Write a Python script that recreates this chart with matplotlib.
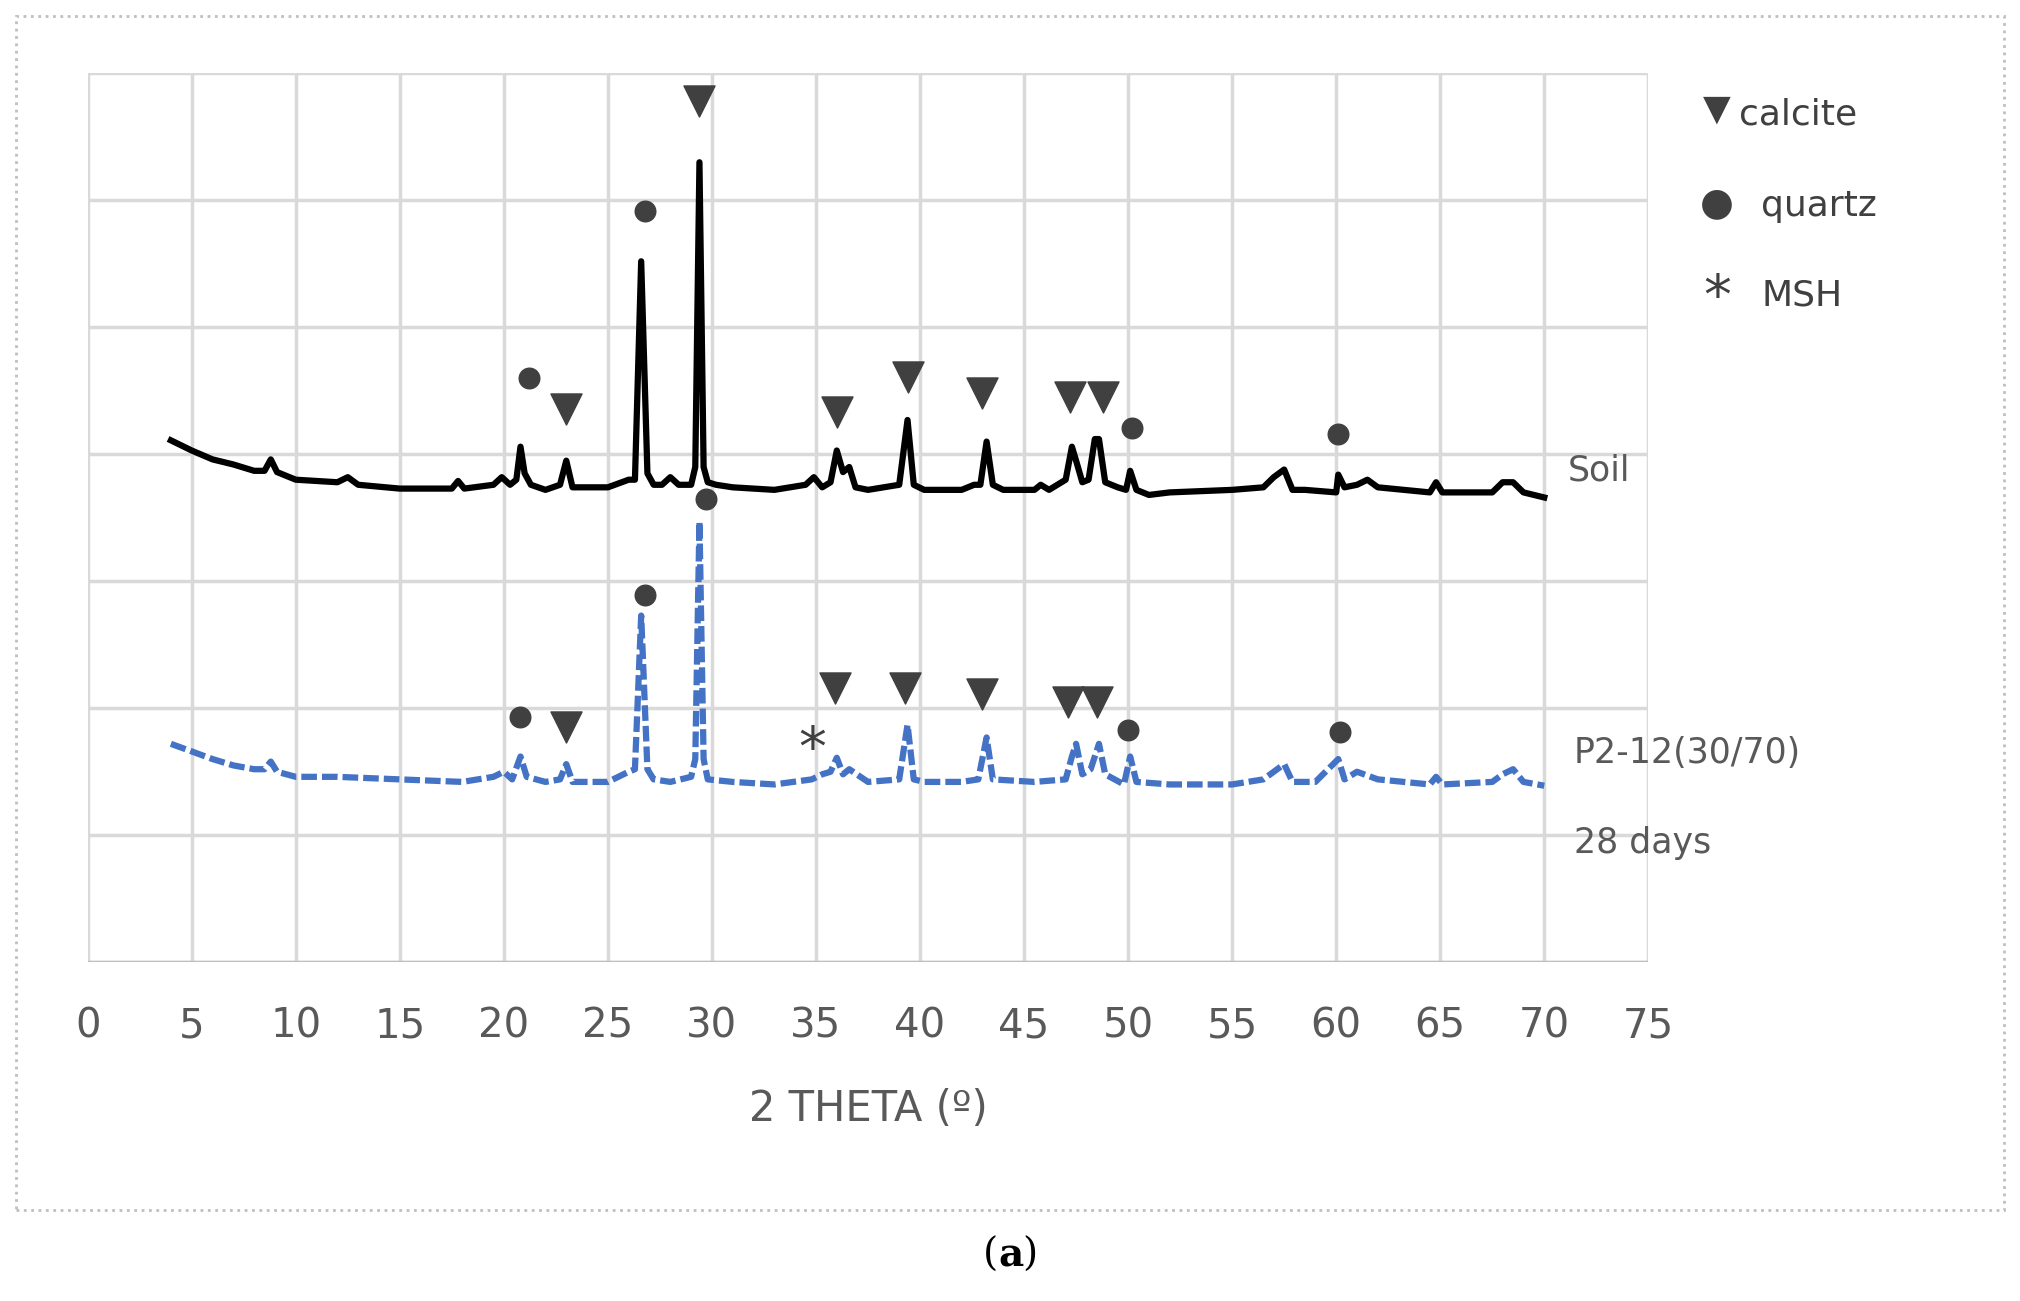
import matplotlib
matplotlib.use("Agg")
import matplotlib.pyplot as plt
from matplotlib.patches import Rectangle

soil_x = [4,5,6,7,8,8.5,8.8,9.1,10,12,12.5,13,15,17.5,17.8,18.1,19.5,19.9,20.3,20.6,20.8,21.0,21.3,22,22.7,23,23.3,25,26.0,26.3,26.6,26.9,27.2,27.6,28,28.4,29.0,29.2,29.4,29.6,29.8,30.2,31,33,34.5,34.9,35.3,35.7,36.0,36.3,36.6,36.9,37.5,39.0,39.4,39.7,40.2,42,42.6,42.9,43.2,43.5,44,45.5,45.8,46.2,47.0,47.3,47.5,47.8,48.1,48.4,48.6,48.9,49.5,49.9,50.1,50.4,51,52,55,56.5,57.0,57.5,57.9,58.5,60,60.1,60.4,61,61.5,62,64.5,64.8,65.1,66,67.5,68.0,68.5,69,70]
soil_y = [4.11,4.03,3.96,3.92,3.87,3.87,3.96,3.86,3.80,3.78,3.82,3.76,3.73,3.73,3.79,3.73,3.76,3.82,3.76,3.80,4.06,3.85,3.76,3.72,3.76,3.95,3.74,3.74,3.80,3.80,5.52,3.85,3.76,3.76,3.82,3.76,3.76,3.90,6.30,3.90,3.78,3.76,3.74,3.72,3.76,3.82,3.74,3.78,4.03,3.86,3.90,3.74,3.72,3.76,4.27,3.76,3.72,3.72,3.76,3.76,4.10,3.76,3.72,3.72,3.76,3.72,3.80,4.06,3.95,3.78,3.80,4.12,4.12,3.78,3.74,3.72,3.87,3.72,3.68,3.70,3.72,3.74,3.82,3.88,3.72,3.72,3.70,3.84,3.74,3.76,3.80,3.74,3.70,3.78,3.70,3.70,3.70,3.78,3.78,3.70,3.66]

p2_x = [4,5,6,7,8,8.5,8.8,9.1,10,12,15,18,19.5,20.0,20.4,20.8,21.1,22,22.7,23,23.3,25,26.0,26.3,26.6,26.9,27.2,28,29.0,29.2,29.4,29.6,29.8,31,33,34.8,35.3,35.7,36.0,36.3,36.6,37.5,39.0,39.4,39.7,40.2,42,42.8,43.2,43.5,45.5,47.0,47.3,47.5,47.8,48.2,48.6,48.9,49.8,50.1,50.4,52,55,56.5,57.0,57.5,57.9,59,60.1,60.4,61,62,64.5,64.8,65.1,67.5,68.0,68.5,69,70]
p2_y = [1.72,1.66,1.60,1.55,1.52,1.52,1.58,1.50,1.46,1.46,1.44,1.42,1.46,1.50,1.44,1.62,1.46,1.42,1.44,1.56,1.42,1.42,1.50,1.52,2.73,1.52,1.44,1.42,1.46,1.60,3.47,1.60,1.44,1.42,1.40,1.44,1.48,1.50,1.61,1.48,1.52,1.42,1.44,1.87,1.44,1.42,1.42,1.44,1.77,1.44,1.42,1.44,1.62,1.72,1.48,1.52,1.72,1.48,1.40,1.62,1.42,1.40,1.40,1.44,1.50,1.56,1.42,1.42,1.60,1.44,1.50,1.44,1.40,1.46,1.40,1.42,1.48,1.52,1.42,1.39]

calcite_x = [29.4,23.0,36.0,39.4,43.0,47.2,48.8, 23.0,35.9,39.3,43.0,47.1,48.5]
calcite_y = [6.78,4.36,4.33,4.61,4.48,4.45,4.45, 1.85,2.16,2.16,2.11,2.05,2.05]
quartz_x = [26.8,21.2,50.2,60.1, 29.7,26.8,20.8,50.0,60.2]
quartz_y = [5.92,4.60,4.21,4.16, 3.65,2.89,1.93,1.83,1.81]
msh_x = [34.8]
msh_y = [1.66]
xticks = list(range(0, 80, 5))

fig = plt.figure(figsize=(20.2, 13.01), dpi=100)
ax = fig.add_axes([0.0434, 0.2604, 0.7726, 0.6832])
ax.set_xlim(0, 75)
ax.set_ylim(0, 7)
ax.set_xticks(xticks)
ax.set_yticks(range(8))
ax.set_yticklabels([])
ax.grid(True, color="#d9d9d9", lw=2.5)
ax.set_axisbelow(True)
for s in ax.spines.values():
    s.set_visible(False)
ax.axhline(0, color="#bfbfbf", lw=2.5)
ax.tick_params(length=0, labelsize=29, labelcolor="#595959", pad=32)
ax.plot(soil_x, soil_y, color="black", lw=4.5)
ax.plot(p2_x, p2_y, color="#4472c4", lw=4.5, ls=(0, (2.5, 0.8)))
ax.scatter(calcite_x, calcite_y, marker="v", s=500, color="#404040", zorder=5)
ax.scatter(quartz_x, quartz_y, marker="o", s=220, color="#404040", zorder=5)
ax.text(msh_x[0], msh_y[0], "*", fontsize=40, color="#404040", ha="center", va="center", zorder=5)
ax.set_xlabel("2 THETA (º)", fontsize=30, color="#595959", labelpad=30)

fig.text(0.85, 0.916, "▼", fontsize=26, color="#404040", ha="center", va="center")
fig.text(0.861, 0.912, "calcite", fontsize=26, color="#404040", va="center")
fig.text(0.85, 0.844, "●", fontsize=28, color="#404040", ha="center", va="center")
fig.text(0.872, 0.842, "quartz", fontsize=26, color="#404040", va="center")
fig.text(0.85, 0.770, "*", fontsize=40, color="#404040", ha="center", va="center")
fig.text(0.872, 0.773, "MSH", fontsize=26, color="#404040", va="center")
fig.text(0.776, 0.638, "Soil", fontsize=25, color="#595959", va="center")
fig.text(0.779, 0.421, "P2-12(30/70)", fontsize=25, color="#595959", va="center")
fig.text(0.779, 0.352, "28 days", fontsize=25, color="#595959", va="center")
fig.patches.append(Rectangle((0.008, 0.07), 0.984, 0.918, transform=fig.transFigure,
                             fill=False, ec="#bfbfbf", lw=2, ls=":"))
fig.text(0.494, 0.035, "(", fontsize=28, ha="right", va="center", family="DejaVu Serif")
fig.text(0.494, 0.035, "a", fontsize=28, ha="left", va="center", weight="bold", family="DejaVu Serif")
fig.text(0.506, 0.035, ")", fontsize=28, ha="left", va="center", family="DejaVu Serif")
fig.savefig("out.png", dpi=100)
